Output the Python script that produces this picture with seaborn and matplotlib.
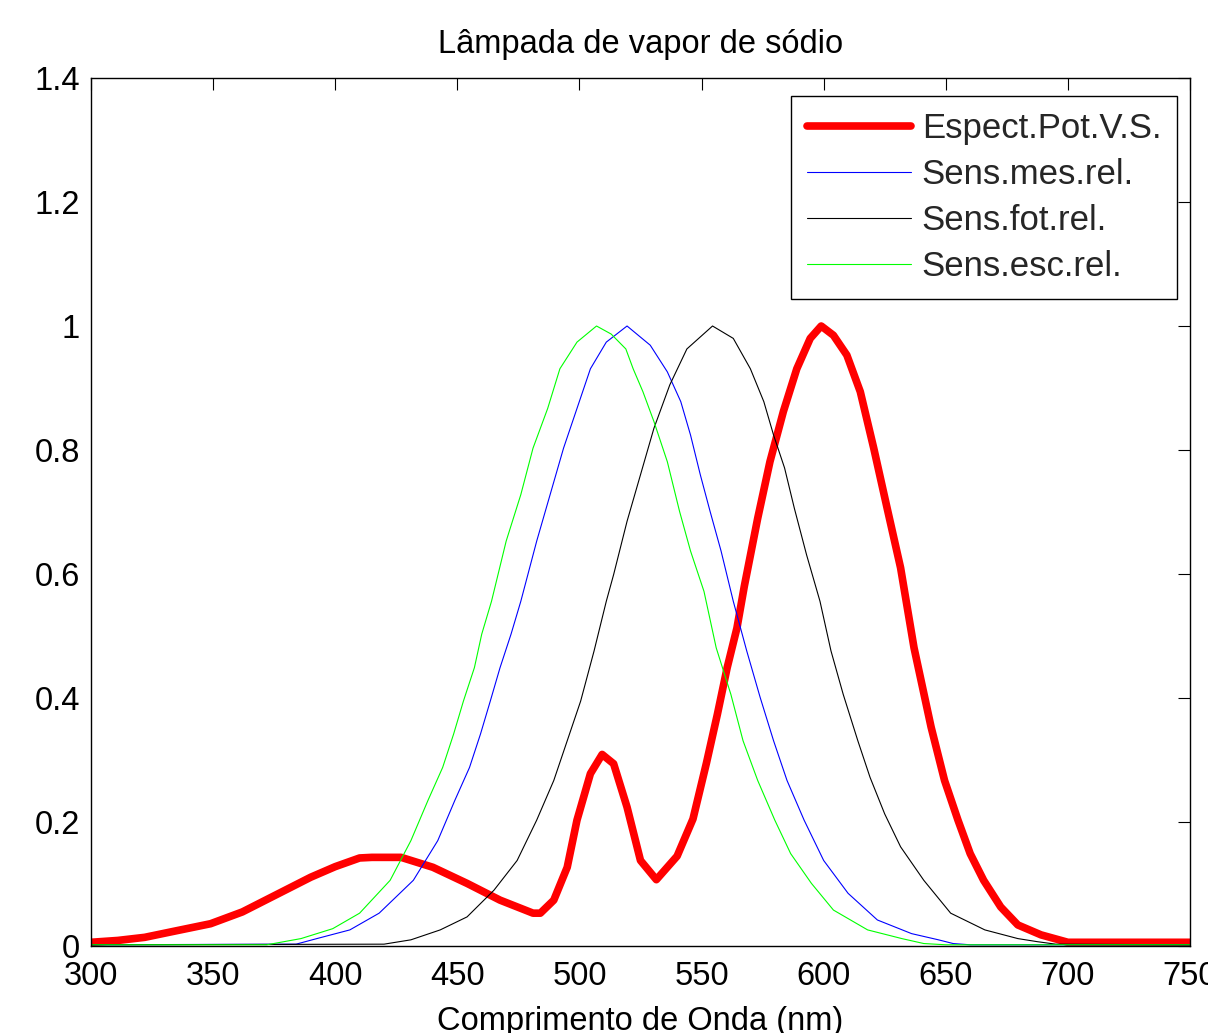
import matplotlib
matplotlib.use("Agg")
import matplotlib.pyplot as plt
import seaborn as sns
import pandas as pd

# ---- data ----
red_nm = [300, 311, 322, 333, 349, 362, 377, 390, 400, 410, 415, 427, 440, 454,
          467.5, 481, 484, 489.5, 495, 499, 504.5, 509.3, 514, 519.5, 525, 531.5,
          540, 546.5, 552, 556.5, 560.5, 564.5, 567.5, 573, 578, 583.5, 589, 594.5,
          599, 604, 609.5, 615, 620.5, 626, 631.5, 637, 644, 649.5, 655, 660,
          665.5, 672.5, 679.5, 689, 700, 750]
red_val = [0.006, 0.009, 0.014, 0.023, 0.036, 0.055, 0.085, 0.111, 0.128, 0.142,
           0.143, 0.143, 0.127, 0.101, 0.074, 0.053, 0.053, 0.074, 0.127, 0.203,
           0.278, 0.309, 0.294, 0.224, 0.138, 0.107, 0.145, 0.205, 0.295, 0.374,
           0.449, 0.513, 0.58, 0.69, 0.781, 0.862, 0.931, 0.98, 1.0, 0.985, 0.953,
           0.894, 0.803, 0.706, 0.61, 0.481, 0.353, 0.267, 0.203, 0.149, 0.106,
           0.063, 0.034, 0.018, 0.006, 0.006]

blue_nm = [300, 384, 392.5, 406, 418, 432, 442, 449, 455, 459.5, 463.5, 467.5,
           472, 476, 482.5, 488, 493.5, 499, 504.5, 511, 519.5, 529, 536, 541.5,
           545.5, 549.5, 553.5, 558, 563, 568.5, 574, 579.5, 585, 592, 600, 610,
           622, 636, 647, 653, 660, 750]
blue_val = [0.002, 0.003, 0.012, 0.026, 0.053, 0.106, 0.170, 0.235, 0.288, 0.342,
            0.395, 0.449, 0.503, 0.556, 0.653, 0.728, 0.803, 0.867, 0.931, 0.974,
            1.0, 0.969, 0.926, 0.878, 0.824, 0.76, 0.701, 0.637, 0.556, 0.476,
            0.401, 0.331, 0.267, 0.203, 0.138, 0.085, 0.042, 0.020, 0.010, 0.004,
            0.002, 0.002]

black_nm = [300, 420, 431, 443, 454, 465, 474.5, 482.5, 489.5, 495, 500.5, 506,
            511, 514, 519.5, 525, 530.5, 537, 544, 554.5, 563, 570, 575.5, 579.5,
            584, 588, 593, 598.5, 603, 608, 614, 619, 625, 631.5, 641, 652, 666,
            679.5, 687.5, 695, 750]
black_val = [0.002, 0.003, 0.010, 0.026, 0.047, 0.090, 0.138, 0.203, 0.267, 0.331,
             0.395, 0.476, 0.556, 0.599, 0.685, 0.76, 0.835, 0.905, 0.963, 1.0,
             0.98, 0.931, 0.878, 0.824, 0.771, 0.706, 0.631, 0.556, 0.476, 0.406,
             0.331, 0.272, 0.213, 0.160, 0.106, 0.053, 0.026, 0.012, 0.007, 0.003,
             0.002]

green_nm = [300, 372, 386, 399, 410, 422.5, 431, 438, 444, 448.5, 452.5, 457, 460,
            464, 470, 476, 481, 487, 492, 499, 507, 513, 519, 522, 526, 530.5, 536,
            541, 545.5, 551, 556, 562, 567, 573, 580, 586.5, 595, 604, 618, 632,
            641, 650, 750]
green_val = [0.002, 0.002, 0.012, 0.028, 0.053, 0.106, 0.170, 0.235, 0.288, 0.342,
             0.395, 0.449, 0.503, 0.556, 0.653, 0.728, 0.803, 0.867, 0.931, 0.974,
             1.0, 0.987, 0.963, 0.931, 0.894, 0.846, 0.781, 0.701, 0.637, 0.572,
             0.481, 0.406, 0.331, 0.267, 0.203, 0.149, 0.101, 0.058, 0.026, 0.012,
             0.004, 0.002, 0.002]

labels = ["Espect.Pot.V.S.", "Sens.mes.rel.", "Sens.fot.rel.", "Sens.esc.rel."]
colors = ["#ff0000", "#0000ff", "#000000", "#00ff00"]
widths = [5.5, 0.8, 0.8, 0.8]
x_ticks = [300, 350, 400, 450, 500, 550, 600, 650, 700, 750]
y_ticks = [0, 0.2, 0.4, 0.6, 0.8, 1.0, 1.2, 1.4]
y_tick_labels = ["0", "0.2", "0.4", "0.6", "0.8", "1", "1.2", "1.4"]

series = [(red_nm, red_val), (blue_nm, blue_val), (black_nm, black_val),
          (green_nm, green_val)]

sns.set_theme(style="white")
plt.rcParams["font.family"] = ["Liberation Sans", "DejaVu Sans"]

fig = plt.figure(figsize=(12.08, 10.33), dpi=100)
ax = fig.add_axes([0.0753, 0.0842, 0.9098, 0.8403])

for (xs, ys), lab, col, lw in zip(series, labels, colors, widths):
    df = pd.DataFrame({"nm": xs, "val": ys})
    sns.lineplot(data=df, x="nm", y="val", ax=ax, color=col, linewidth=lw,
                 label=lab, estimator=None, sort=False)

ax.set_xlim(300, 750)
ax.set_ylim(0, 1.4)
ax.set_xticks(x_ticks)
ax.set_xticklabels([str(t) for t in x_ticks])
ax.set_yticks(y_ticks)
ax.set_yticklabels(y_tick_labels)
ax.tick_params(axis="both", direction="in", length=8.6, width=0.8, color="black",
               labelsize=23.5, labelcolor="black", top=True, right=True)
ax.tick_params(axis="x", pad=11)
ax.tick_params(axis="y", pad=8)
for s in ax.spines.values():
    s.set_visible(True)
    s.set_color("black")
    s.set_linewidth(1.0)

ax.set_title("Lâmpada de vapor de sódio", fontsize=23.5, color="black", pad=18)
ax.set_xlabel("Comprimento de Onda (nm)", fontsize=23.5, color="black", labelpad=10)
ax.set_ylabel("")

leg = ax.legend(loc="upper right", bbox_to_anchor=(0.988, 0.979),
                borderaxespad=0, fontsize=25, frameon=True, fancybox=False,
                framealpha=1, edgecolor="black", handlelength=3.0,
                labelspacing=0.38, borderpad=0.45, handletextpad=0.3)
leg.get_frame().set_linewidth(1.0)

fig.savefig("out.png", dpi=100)
